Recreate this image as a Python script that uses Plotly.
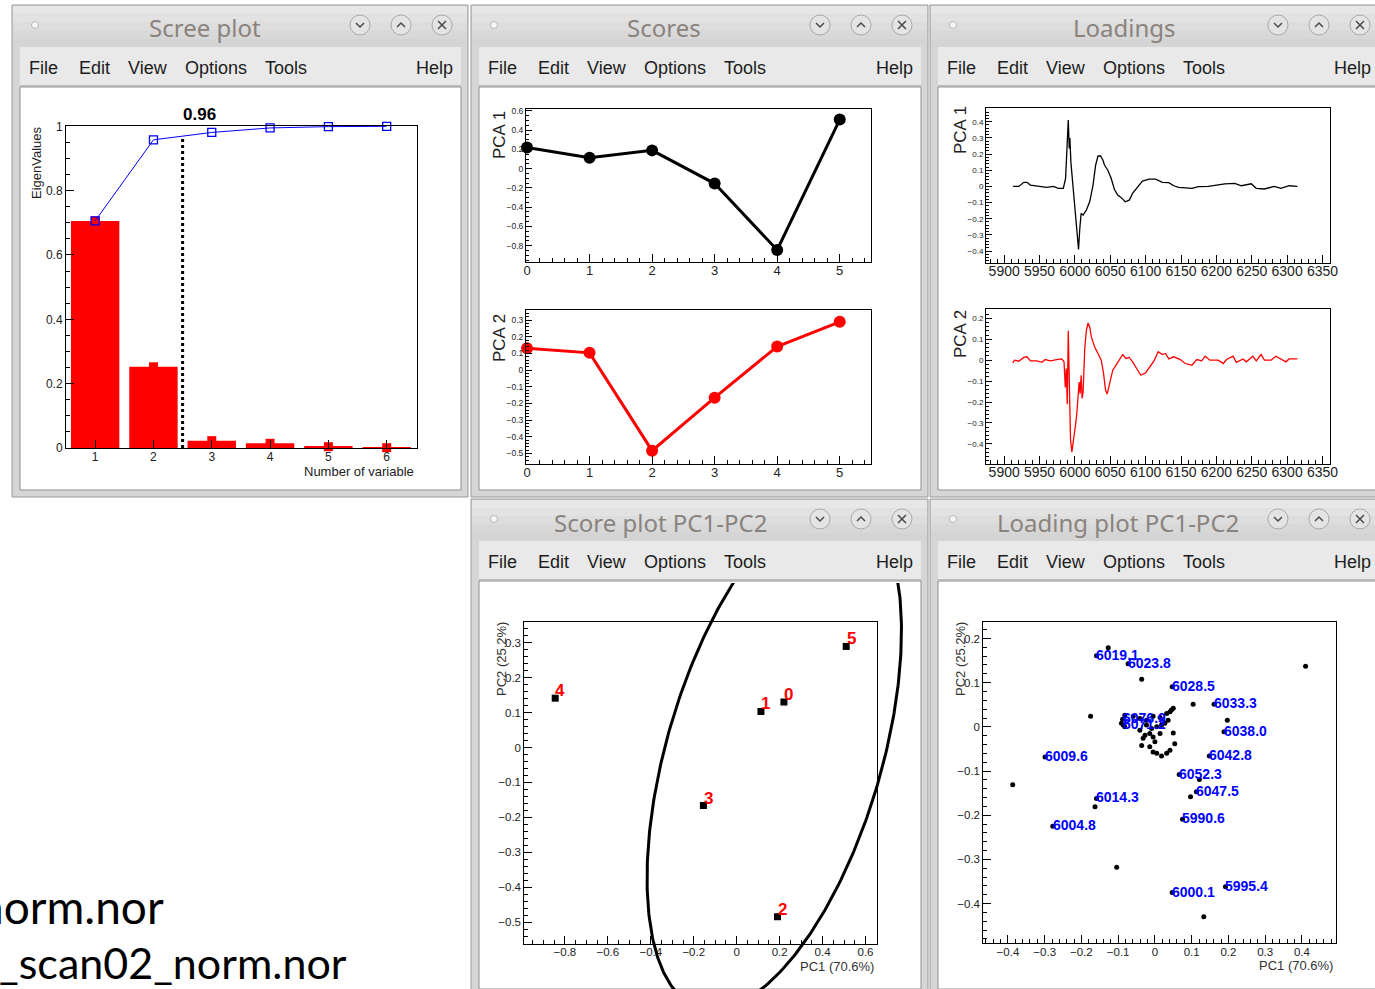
import numpy as np
import plotly.graph_objects as go

W, H = 1375, 989

# ---------------- data ----------------
scree_index = [1, 2, 3, 4, 5, 6]
eigen_values = [0.706, 0.2525, 0.0228, 0.0145, 0.004, 0.001]
cumulative_values = [0.706, 0.958, 0.981, 0.995, 0.999, 1.0]
threshold_position = 2.5
threshold_top = 0.97
threshold_label = "0.96"

sample_ids = [0, 1, 2, 3, 4, 5]
sample_labels = ["0", "1", "2", "3", "4", "5"]
score_pc1 = [0.22, 0.113, 0.19, -0.155, -0.845, 0.51]
score_pc2 = [0.13, 0.103, -0.484, -0.166, 0.141, 0.289]

load1_energy = [5912.3, 5920.7, 5927.7, 5932.3, 5937.0, 5955.6, 5960.3, 5969.6, 5976.6, 5983.6,
                5986.8, 5988.3, 5990.6, 5992.0, 5992.9, 5994.3, 5997.5, 6001.4, 6003.2, 6005.1,
                6006.9, 6008.8, 6011.6, 6016.2, 6020.9, 6025.6, 6029.3, 6032.6, 6036.3, 6039.5,
                6041.8, 6046.5, 6051.2, 6055.9, 6060.5, 6065.1, 6071.2, 6076.8, 6081.5, 6088.4,
                6095.4, 6104.8, 6114.1, 6123.5, 6132.7, 6139.7, 6146.7, 6165.4, 6174.7, 6188.7,
                6202.6, 6212.0, 6226.0, 6235.3, 6249.3, 6256.3, 6267.9, 6281.8, 6291.2, 6302.8, 6314.5]
load1_values = [0, 0, 0.025, 0.025, 0.008, 0, -0.006, 0, -0.012, -0.012,
                0.05, 0.19, 0.41, 0.235, 0.30, 0.15, -0.012, -0.2, -0.34, -0.39,
                -0.26, -0.167, -0.177, -0.146, -0.095, 0.008, 0.132, 0.188, 0.188, 0.163,
                0.132, 0.10, 0.05, -0.019, -0.054, -0.068, -0.095, -0.085, -0.043, -0.002,
                0.033, 0.045, 0.045, 0.025, 0.023, 0.004, -0.006, -0.012, -0.002, 0,
                0.008, 0.016, 0.019, 0.004, 0.016, -0.012, -0.016, 0, -0.012, 0.004, 0]

load2_energy = [5912.3, 5914.6, 5920.7, 5927.7, 5932.3, 5937.0, 5946.3, 5953.3, 5958.0, 5965.0,
                5974.3, 5981.3, 5984.6, 5986.4, 5987.8, 5989.2, 5990.6, 5992.0, 5993.8, 5995.7,
                5997.5, 5999.9, 6002.3, 6004.5, 6006.0, 6007.3, 6008.8, 6010.2, 6011.6, 6013.9,
                6016.2, 6018.6, 6020.9, 6023.2, 6027.8, 6032.6, 6037.2, 6040.5, 6043.3, 6045.6,
                6048.9, 6053.5, 6058.1, 6062.9, 6067.5, 6072.1, 6076.8, 6081.5, 6087.1, 6093.2,
                6100.1, 6107.1, 6111.8, 6117.8, 6123.5, 6128.1, 6132.7, 6139.7, 6149.0, 6156.0,
                6165.4, 6172.3, 6179.3, 6184.0, 6190.9, 6202.6, 6209.6, 6214.3, 6223.6, 6228.2,
                6237.6, 6242.3, 6251.5, 6256.3, 6263.2, 6267.9, 6277.2, 6284.2, 6291.2, 6298.2,
                6302.8, 6314.5]
load2_values = [-0.013, 0, -0.005, 0.013, 0.016, -0.003, -0.003, -0.01, 0.003, -0.003,
                0.003, 0.006, -0.008, -0.13, -0.04, -0.21, 0.14, -0.19, -0.38, -0.438,
                -0.38, -0.334, -0.27, -0.175, -0.104, -0.16, -0.072, -0.183, -0.151, 0.056,
                0.143, 0.178, 0.159, 0.111, 0.064, 0.032, 0, -0.064, -0.143, -0.162,
                -0.119, -0.048, -0.024, 0.003, 0.027, 0.008, 0.013, -0.008, -0.04, -0.072,
                -0.06, -0.024, -0.003, 0.04, 0.027, 0.032, 0.006, 0.016, 0.003, -0.016,
                -0.024, 0.003, -0.003, 0.019, 0, 0, -0.016, 0.003, 0.019, -0.01,
                0.006, -0.008, 0.019, -0.003, 0.027, 0, 0, 0.019, 0.006, -0.008,
                0.006, 0.006]

loading_pc1 = [-0.127, -0.159, -0.073, -0.036, 0.047, 0.104, 0.161, 0.197, 0.188, -0.175,
               -0.299, 0.148, 0.066, 0.121, 0.113, 0.097, -0.387, -0.159, -0.163, 0.075,
               -0.278, -0.104, 0.047, 0.192, 0.133, 0.41, -0.088, -0.086,
               -0.082, -0.059, -0.041, -0.005, 0.014, 0.032, 0.045, 0.050, 0.041, -0.091,
               -0.082, -0.041, -0.023, -0.014, -0.005, 0.014, 0.050, 0.054, -0.032, -0.036,
               -0.005, 0.005, 0.018, 0.032, 0.041, -0.014, 0.0, 0.027, 0.036, 0.018,
               -0.023, 0.005, -0.009, -0.027]
loading_pc2 = [0.179, 0.161, 0.143, 0.108, 0.091, 0.051, 0.051, 0.015, -0.011, 0.024,
               -0.068, -0.066, -0.108, -0.119, -0.147, -0.158, -0.131, -0.162, -0.181, -0.209,
               -0.225, -0.318, -0.375, -0.362, -0.430, 0.137, 0.017, 0.004,
               0.026, 0.024, 0.019, 0.024, 0.021, 0.030, 0.038, 0.042, 0.034, 0.008,
               0.0, -0.008, 0.004, -0.015, -0.023, -0.015, -0.014, -0.038, -0.026, -0.042,
               -0.057, -0.060, -0.066, -0.060, -0.053, -0.045, -0.034, 0.008, 0.015, 0.004,
               0.015, 0.0, -0.004, -0.019]

label_texts = ["6019.1", "6023.8", "6028.5", "6033.3", "6038.0", "6009.6", "6042.8", "6052.3",
               "6047.5", "6014.3", "5990.6", "6004.8", "6000.1", "5995.4", "6076.9", "6071.2"]
label_pc1 = [-0.159, -0.073, 0.047, 0.161, 0.188, -0.299, 0.148, 0.066,
             0.113, -0.159, 0.075, -0.278, 0.047, 0.192, -0.088, -0.086]
label_pc2 = [0.161, 0.143, 0.091, 0.051, -0.011, -0.068, -0.066, -0.108,
             -0.147, -0.162, -0.209, -0.225, -0.375, -0.362, 0.017, 0.004]

ellipse_center = (0.175, -0.02)
ellipse_radii = (0.819, 0.462)
ellipse_angle_deg = 56.75

# ---------------- helpers ----------------
def PX(x): return x / W
def PY(y): return 1 - y / H
def xd(a, b): return [a / W, b / W]
def yd(top, bottom): return [1 - bottom / H, 1 - top / H]

shapes, annotations = [], []

def rect(x0, y0, x1, y1, fill, line=None, lw=1):
    shapes.append(dict(type='rect', xref='paper', yref='paper', x0=PX(x0), x1=PX(x1),
                       y0=PY(y1), y1=PY(y0), fillcolor=fill,
                       line=dict(color=line if line else fill, width=lw if line else 0), layer='below'))

def path(pts, color, width):
    d = 'M ' + ' L '.join(f'{PX(a):.5f},{PY(b):.5f}' for a, b in pts)
    shapes.append(dict(type='path', xref='paper', yref='paper', path=d,
                       line=dict(color=color, width=width), layer='below'))

def circle(cx, cy, r, fill, line):
    shapes.append(dict(type='circle', xref='paper', yref='paper', x0=PX(cx - r), x1=PX(cx + r),
                       y0=PY(cy + r), y1=PY(cy - r), fillcolor=fill, line=dict(color=line, width=1),
                       layer='below'))

def text(x, y, s, size, color='black', family='Liberation Sans', xanchor='center',
         yanchor='middle', angle=0, bold=False):
    annotations.append(dict(xref='paper', yref='paper', x=PX(x), y=PY(y),
                            text=f'<b>{s}</b>' if bold else s, showarrow=False,
                            xanchor=xanchor, yanchor=yanchor, textangle=angle,
                            font=dict(size=size, color=color, family=family)))

MENU = [('File', 15), ('Edit', 65), ('View', 114), ('Options', 171), ('Tools', 251)]

def window(x0, y0, x1, y1, title, tcx):
    rect(x0, y0, x1, y1, '#d6d6d6', '#9a9a9a')
    cols = ['#e7e7e7', '#e2e2e2', '#dddddd', '#d8d8d8', '#d4d4d4']
    bh = 41 / len(cols)
    for i, c in enumerate(cols):
        rect(x0 + 1, y0 + 1 + i * bh, x1 - 1, y0 + 1 + (i + 1) * bh, c)
    rect(x0 + 8, y0 + 42, x1 - 7, y0 + 80, '#e9e9e9')
    path([(x0 + 8, y0 + 80.5), (x1 - 7, y0 + 80.5)], '#bdbdbd', 1)
    rect(x0 + 8, y0 + 82, x1 - 7, y1 - 7, 'white', '#8f8f8f')
    circle(x0 + 23, y0 + 20, 3.5, '#f6f6f6', '#b8b8b8')
    text(tcx, y0 + 23, title, 24, '#8a837d', 'Noto Sans')
    for k, cx in enumerate([x1 - 108, x1 - 67, x1 - 26]):
        cy = y0 + 20
        circle(cx, cy, 10, '#e4e4e4', '#a9a9a9')
        if k == 0:
            path([(cx - 4, cy - 2), (cx, cy + 2), (cx + 4, cy - 2)], '#4a4a4a', 1.5)
        elif k == 1:
            path([(cx - 4, cy + 2), (cx, cy - 2), (cx + 4, cy + 2)], '#4a4a4a', 1.5)
        else:
            path([(cx - 4, cy - 4), (cx + 4, cy + 4)], '#4a4a4a', 1.5)
            path([(cx - 4, cy + 4), (cx + 4, cy - 4)], '#4a4a4a', 1.5)
    for name, off in MENU:
        text(x0 + off, y0 + 63, name, 18, '#1c1c1c', 'Liberation Sans', xanchor='left')
    text(x1 - 13, y0 + 63, 'Help', 18, '#1c1c1c', 'Liberation Sans', xanchor='right')

window(12, 5, 468, 497, 'Scree plot', 205)
window(471, 5, 928, 497, 'Scores', 664)
window(930, 5, 1386, 497, 'Loadings', 1124)
window(471, 499, 928, 996, 'Score plot PC1-PC2', 660)
window(930, 499, 1386, 996, 'Loading plot PC1-PC2', 1118)

def axis(domain, rng, dtick, tick0, minor, fs, anchor, ticklen=8, minorlen=4, standoff=0):
    d = dict(domain=domain, range=rng, anchor=anchor, showline=True, mirror=True,
             linecolor='black', linewidth=1, ticks='inside', ticklen=ticklen, tickwidth=1,
             tickcolor='black', dtick=dtick, tick0=tick0,
             tickfont=dict(family='Liberation Sans', size=fs, color='#222'),
             showgrid=False, zeroline=False, fixedrange=True, tickangle=0, automargin=False,
             ticklabelstandoff=standoff)
    if minor:
        d['minor'] = dict(ticks='inside', dtick=minor, tick0=tick0, ticklen=minorlen,
                          tickwidth=1, tickcolor='black', showgrid=False)
    return d

# axis geometry (pixels)
SX = (66, 417); SY = (126, 448)
P1X = (526, 871); P1Y = (109, 262); P2Y = (310, 464)
LX = (986, 1330); L1Y = (108, 262.7); L2Y = (309.3, 464)
SPX = (524.3, 876.7); SPY = (622.3, 944)
OVX = (481, 920); OVY = (583, 989)
LPX = (983.3, 1335.7); LPY = (621.7, 943.3)

sp_xr = [-0.989, 0.652]
sp_yr = [-0.562, 0.358]
sx = (sp_xr[1] - sp_xr[0]) / (SPX[1] - SPX[0])
sy = (sp_yr[1] - sp_yr[0]) / (SPY[1] - SPY[0])
ov_xr = [sp_xr[0] - (SPX[0] - OVX[0]) * sx, sp_xr[1] + (OVX[1] - SPX[1]) * sx]
ov_yr = [sp_yr[0] - (OVY[1] - SPY[1]) * sy, sp_yr[1] + (SPY[0] - OVY[0]) * sy]

layout_axes = dict(
    xaxis=axis(xd(*SX), [0.5, 6.52], 1, 0, None, 12, 'y', standoff=-2),
    yaxis=axis(yd(*SY), [0, 1.001], 0.2, 0, 0.05, 12, 'x'),
    xaxis2=axis(xd(*P1X), [-0.016, 5.5], 1, 0, 0.2, 13, 'y2', standoff=-4),
    yaxis2=axis(yd(*P1Y), [-0.97, 0.62], 0.2, 0, 0.05, 8.5, 'x2', 6, 3),
    xaxis3=axis(xd(*P1X), [-0.016, 5.5], 1, 0, 0.2, 13, 'y3', standoff=-4),
    yaxis3=axis(yd(*P2Y), [-0.564, 0.36], 0.1, 0, 0.02, 8.5, 'x3', 6, 3),
    xaxis4=axis(xd(*LX), [5874.3, 6360.6], 50, 5900, 10, 14, 'y4', standoff=-5),
    yaxis4=axis(yd(*L1Y), [-0.472, 0.485], 0.1, 0, 0.02, 8, 'x4', 6, 3),
    xaxis5=axis(xd(*LX), [5874.3, 6360.6], 50, 5900, 10, 14, 'y5', standoff=-5),
    yaxis5=axis(yd(*L2Y), [-0.496, 0.243], 0.1, 0, 0.02, 8, 'x5', 6, 3),
    xaxis6=axis(xd(*SPX), sp_xr, 0.2, 0, 0.05, 11.5, 'y6', standoff=-3),
    yaxis6=axis(yd(*SPY), sp_yr, 0.1, 0, 0.02, 11.5, 'x6'),
    xaxis7=dict(domain=xd(*OVX), range=ov_xr, visible=False, anchor='y7', fixedrange=True),
    yaxis7=dict(domain=yd(*OVY), range=ov_yr, visible=False, anchor='x7', fixedrange=True),
    xaxis8=axis(xd(*LPX), [-0.467, 0.492], 0.1, 0, 0.02, 11.5, 'y8', standoff=-2),
    yaxis8=axis(yd(*LPY), [-0.49, 0.238], 0.1, 0, 0.02, 11.5, 'x8'),
)

fig = go.Figure()

# ---- scree plot ----
fig.add_trace(go.Bar(x=scree_index, y=eigen_values, width=0.83,
                     marker=dict(color='#ff0000', line=dict(width=0)), xaxis='x', yaxis='y'))
fig.add_trace(go.Scatter(x=scree_index, y=eigen_values, mode='markers', cliponaxis=False,
                         marker=dict(symbol='square', size=9, color='#ff0000'), xaxis='x', yaxis='y'))
fig.add_trace(go.Scatter(x=scree_index, y=cumulative_values, mode='lines+markers',
                         line=dict(color='#0000ff', width=1), cliponaxis=False,
                         marker=dict(symbol='square-open', size=8, color='#0000ff', line=dict(width=1.3)),
                         xaxis='x', yaxis='y'))
fig.add_trace(go.Scatter(x=[threshold_position, threshold_position], y=[0, threshold_top], mode='lines',
                         line=dict(color='black', width=3, dash='dot'), xaxis='x', yaxis='y'))
annotations.append(dict(xref='x', yref='y', x=threshold_position, y=1.0, text=f'<b>{threshold_label}</b>',
                        showarrow=False, xanchor='left', yanchor='bottom', xshift=-2,
                        font=dict(size=17, family='Liberation Sans', color='black')))

# ---- scores ----
fig.add_trace(go.Scatter(x=sample_ids, y=score_pc1, mode='lines+markers', cliponaxis=False,
                         line=dict(color='black', width=3), marker=dict(size=12, color='black'),
                         xaxis='x2', yaxis='y2'))
fig.add_trace(go.Scatter(x=sample_ids, y=score_pc2, mode='lines+markers', cliponaxis=False,
                         line=dict(color='#ff0000', width=3), marker=dict(size=12, color='#ff0000'),
                         xaxis='x3', yaxis='y3'))

# ---- loadings ----
fig.add_trace(go.Scatter(x=load1_energy, y=load1_values, mode='lines',
                         line=dict(color='black', width=1.3), xaxis='x4', yaxis='y4'))
fig.add_trace(go.Scatter(x=load2_energy, y=load2_values, mode='lines',
                         line=dict(color='#ff0000', width=1.3), xaxis='x5', yaxis='y5'))

# ---- score plot PC1-PC2 ----
fig.add_trace(go.Scatter(x=score_pc1, y=score_pc2, mode='markers', cliponaxis=False,
                         marker=dict(symbol='square', size=7, color='black'), xaxis='x6', yaxis='y6'))
for s, a, b in zip(sample_labels, score_pc1, score_pc2):
    annotations.append(dict(xref='x6', yref='y6', x=a, y=b, text=f'<b>{s}</b>', showarrow=False,
                            xanchor='center', yanchor='middle', xshift=5, yshift=7.5,
                            font=dict(size=17, family='Liberation Sans', color='#ff0000')))
t = np.linspace(0, 2 * np.pi, 400)
th = np.deg2rad(ellipse_angle_deg)
ex = ellipse_center[0] + ellipse_radii[0] * np.cos(t) * np.cos(th) - ellipse_radii[1] * np.sin(t) * np.sin(th)
ey = ellipse_center[1] + ellipse_radii[0] * np.cos(t) * np.sin(th) + ellipse_radii[1] * np.sin(t) * np.cos(th)
fig.add_trace(go.Scatter(x=ex, y=ey, mode='lines', line=dict(color='black', width=3),
                         xaxis='x7', yaxis='y7'))

# ---- loading plot PC1-PC2 ----
fig.add_trace(go.Scatter(x=loading_pc1, y=loading_pc2, mode='markers', cliponaxis=False,
                         marker=dict(symbol='circle', size=5, color='black'), xaxis='x8', yaxis='y8'))
for s, a, b in zip(label_texts, label_pc1, label_pc2):
    annotations.append(dict(xref='x8', yref='y8', x=a, y=b, text=f'<b>{s}</b>', showarrow=False,
                            xanchor='left', yanchor='middle', xshift=-2, yshift=1,
                            font=dict(size=14, family='Liberation Sans', color='#0000ff')))

# ---- axis titles ----
text(36, 163, 'EigenValues', 13, '#222', angle=-90)
text(416, 471, 'Number of variable', 13, '#222', xanchor='right')
text(499, 135, 'PCA 1', 17, '#222', angle=-90)
text(499, 338, 'PCA 2', 17, '#222', angle=-90)
text(960, 130, 'PCA 1', 17, '#222', angle=-90)
text(960, 334, 'PCA 2', 17, '#222', angle=-90)
text(501, 659, 'PC2 (25.2%)', 13, '#333', angle=-90)
text(876, 966, 'PC1 (70.6%)', 13, '#333', xanchor='right')
text(960, 659, 'PC2 (25.2%)', 13, '#333', angle=-90)
text(1335, 965, 'PC1 (70.6%)', 13, '#333', xanchor='right')

# ---- slide text ----
text(166, 906, 'norm.nor', 46, 'black', 'Lato', xanchor='right')
text(349, 962, '_scan02_norm.nor', 43, 'black', 'Lato', xanchor='right')

fig.update_layout(
    width=W, height=H, margin=dict(l=0, r=0, t=0, b=0), template='none',
    paper_bgcolor='white', plot_bgcolor='rgba(0,0,0,0)', showlegend=False,
    shapes=shapes, annotations=annotations, **layout_axes,
)
fig.write_html("out.html", config={'displayModeBar': False})
